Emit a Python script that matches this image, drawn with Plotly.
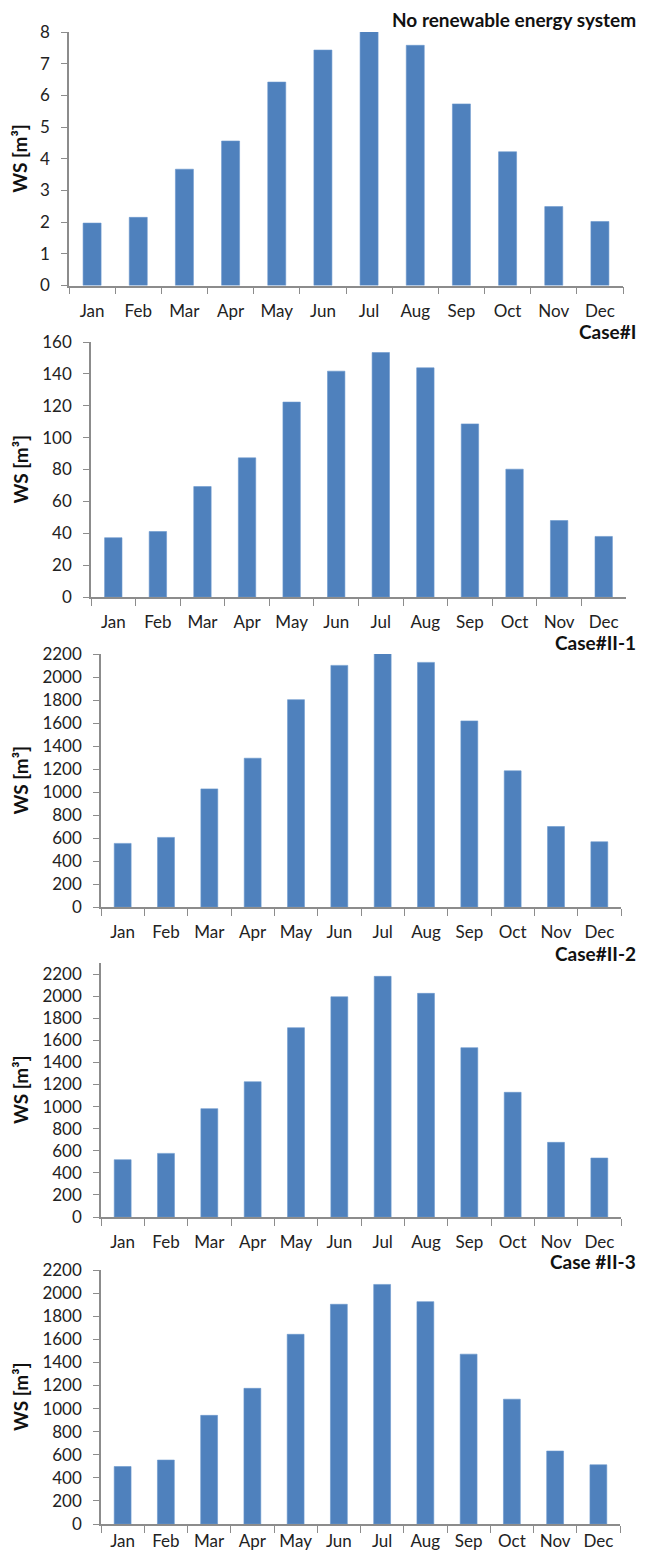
"""Monthly WS volume per case, stacked Excel-style bar panels."""

import plotly.graph_objects as go
from plotly.subplots import make_subplots

months = ['Jan', 'Feb', 'Mar', 'Apr', 'May', 'Jun',
          'Jul', 'Aug', 'Sep', 'Oct', 'Nov', 'Dec']

ws_no_renewable = [1.97, 2.15, 3.67, 4.56, 6.42, 7.43, 8.02, 7.58, 5.73, 4.22, 2.49, 2.02]
ws_case_i = [37.2, 41.1, 69.3, 87.3, 122.3, 141.7, 153.4, 143.8, 108.6, 80.2, 48.0, 38.0]
ws_case_ii_1 = [553, 605, 1027, 1294, 1803, 2101, 2205, 2127, 1618, 1184, 700, 567]
ws_case_ii_2 = [519, 576, 981, 1225, 1714, 1994, 2179, 2025, 1533, 1129, 676, 534]
ws_case_ii_3 = [498, 554, 941, 1175, 1643, 1903, 2075, 1926, 1471, 1081, 632, 513]

panel_titles = ['No renewable energy system', 'Case#I', 'Case#II-1',
                'Case#II-2', 'Case #II-3']
y_ticks = [
    list(range(0, 9, 1)),
    list(range(0, 161, 20)),
    list(range(0, 2201, 200)),
    list(range(0, 2201, 200)),
    list(range(0, 2201, 200)),
]
series = [ws_no_renewable, ws_case_i, ws_case_ii_1, ws_case_ii_2, ws_case_ii_3]

# the page body has an 8px margin, so the figure is sized to fit the window
PAGE_W, PAGE_H, PAD = 645, 1562, 8
W, H = PAGE_W - 2 * PAD, PAGE_H - 2 * PAD


def px_x(x):
    return (x - PAD) / W


def px_y(y):
    return 1 - (y - PAD) / H


# window-pixel geometry: (x_left, x_right, y_top, y_zero, y_max, title_y, label_gap)
panels = [
    (69, 623, 32, 285.5, 8, 20, 9),
    (91, 626, 342, 597, 160, 331, 9),
    (101, 621, 654, 907, 2200, 643, 9),
    (101, 621, 963, 1217, 2300, 953, 9),
    (101, 620, 1270, 1524, 2200, 1261, 1),
]

FONT = 'Lato'
BAR = '#4F81BD'
AXIS = '#8c8c8c'

fig = make_subplots(rows=5, cols=1)

for i, vals in enumerate(series, start=1):
    fig.add_trace(go.Bar(x=months, y=vals, marker_color=BAR,
                         marker_line=dict(color='#6a97cc', width=0.6),
                         showlegend=False), row=i, col=1)

for i, (x0, x1, ytop, yzero, ymax, ty, gap) in enumerate(panels, start=1):
    fig.update_layout(**{
        f'xaxis{i}': dict(domain=[px_x(x0), px_x(x1)], type='category',
                          tickson='boundaries', ticks='outside', ticklen=7,
                          tickcolor=AXIS, tickwidth=1.3, tickangle=0,
                          showline=True, linecolor=AXIS, linewidth=1.5,
                          showgrid=False, ticklabelstandoff=gap,
                          automargin=False,
                          tickfont=dict(family=FONT, size=17, color='#222')),
        f'yaxis{i}': dict(domain=[px_y(yzero), px_y(ytop)],
                          range=[0, ymax], tickvals=y_ticks[i - 1],
                          ticks='outside', ticklen=6, tickcolor=AXIS,
                          tickwidth=1.3, showline=True, linecolor=AXIS,
                          linewidth=1.5, showgrid=False, zeroline=False,
                          ticklabelstandoff=8, automargin=False,
                          tickfont=dict(family=FONT, size=17, color='#222')),
    })
    fig.add_annotation(text=panel_titles[i - 1], xref='paper', yref='paper',
                       x=1.0, y=px_y(ty), xanchor='right', yanchor='middle',
                       showarrow=False, borderpad=0,
                       font=dict(family=FONT, size=19, color='#111', weight='bold'))
    fig.add_annotation(text='WS [m³]', xref='paper', yref='paper',
                       x=px_x(20), y=px_y((ytop + yzero) / 2),
                       xanchor='center', yanchor='middle', textangle=-90,
                       showarrow=False,
                       font=dict(family=FONT, size=19, color='#111', weight='bold'))

fig.update_layout(
    width=W, height=H,
    margin=dict(l=0, r=0, t=0, b=0),
    bargap=0.61,
    paper_bgcolor='white',
    plot_bgcolor='white',
)

fig.write_html("out.html")
